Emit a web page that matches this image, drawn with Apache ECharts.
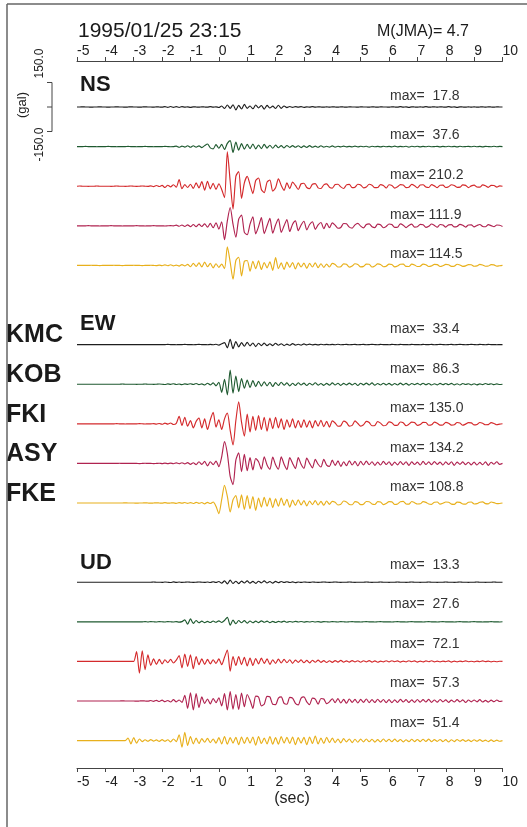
<!DOCTYPE html>
<html><head><meta charset="utf-8">
<script src="https://cdn.jsdelivr.net/npm/echarts@6/dist/echarts.min.js"></script>
<style>html,body{margin:0;padding:0;background:#fff}#c{width:527px;height:827px}</style>
</head><body><div id="c"></div>
<script>
// ---------- DATA ----------
const titleText = '1995/01/25 23:15';
const magnitudeText = 'M(JMA)= 4.7';
const stations = ['KMC', 'KOB', 'FKI', 'ASY', 'FKE'];
const components = ['NS', 'EW', 'UD'];
const nsMax = [17.8, 37.6, 210.2, 111.9, 114.5];
const ewMax = [33.4, 86.3, 135.0, 134.2, 108.8];
const udMax = [13.3, 27.6, 72.1, 57.3, 51.4];
const scaleGal = 150.0;
const timeStart = -5, timeEnd = 10, timeStep = 0.1;
const axisUnit = '(sec)';

// acceleration (gal), one sample each 0.1 s from -5.0 s to 10.0 s
const ns_KMC = [0,0,1,0,0,-1,0,0,1,0, 0,-1,0,0,1,0,0,-1,0,1, 0,0,-1,0,1,0,0,-1,1,0, -1,2,-2,3,-2,2,-3,2,-1,1, -2,1,0,-1,1,0,-1,2,-1,1,
 -3,6,-9,12,-8,14,-18,10,-12,16, -8,6,-11,12,-6,9,-13,10,-6,5, -9,11,-8,6,-4,3,-2,2,-1,2, -2,1,-1,2,-1,1,0,-1,1,-1, 1,0,-1,1,0,-1,1,0,0,-1,
 1,0,0,-1,1,0,-1,1,0,0, -1,1,0,-1,2,-1,1,-2,1,0, -1,1,-1,2,-1,0,1,-1,1,0, -1,2,-1,1,-2,1,0,-1,1,-1, 1,-1,0,1,-1,1,0,-1,1,0, 0];
const ns_KOB = [0,0,0,1,0,0,0,-1,0,0, 0,1,0,0,-1,0,0,0,1,0, 0,-1,0,0,1,0,0,-1,0,0, 0,1,0,-1,0,3,-4,3,-3,5, -4,5,-3,4,-6,6,16,-8,-14,12,
 -10,14,-18,20,37,-36,28,-22,18,-16, 14,-12,16,-14,10,-12,14,-9,8,-10, 9,-7,6,-8,7,-5,6,-4,5,-6, 4,-5,6,-4,3,-4,5,-3,2,-3, 4,-3,2,-2,3,-2,1,-2,3,-2,
 2,-1,2,-3,2,-1,1,-2,2,-1, 1,-2,3,-2,1,-1,2,-3,2,-1, 2,-2,1,-1,2,-1,0,1,-2,1, -1,2,-1,1,-2,2,-1,0,1,-1, 2,-1,1,-2,1,0,-1,2,-1,1, 0];
const ns_FKI = [0,1,0,0,-1,0,0,1,0,0, 0,0,-1,0,1,0,0,-1,0,1, 0,-1,0,1,0,-1,2,-3,4,-2, 5,-8,6,-4,9,-6,40,-15,10,-8, 12,-14,20,-10,28,-24,30,-16,18,-20,
 15,-20,-70,210,30,-140,60,90,-75,20, 60,10,-45,35,50,-20,-40,25,38,-30, -10,45,5,-25,20,-15,25,5,-20,15, 18,-8,-15,12,16,-10,-14,8,14,-6, -12,10,12,-4,-14,8,11,-9,-6,12,
 8,-10,-5,12,6,-9,-8,10,4,-11, 9,5,-12,-4,10,8,-9,-7,11,3, -10,7,9,-5,-8,10,2,-9,6,7, -8,-3,9,4,-7,-6,8,5,-9,2, 7,-5,-6,8,3,-7,5,4,-6,2, 0];
const ns_ASY = [0,0,0,0,1,0,0,0,-1,0, 0,0,1,0,0,0,-1,0,0,0, 0,1,0,0,-1,0,0,1,0,0, 0,-1,0,1,0,4,-3,5,-4,6, -5,8,-6,10,-4,12,-8,15,-12,18,
 -20,25,-85,30,112,10,-70,40,65,-40, -55,10,55,-50,-5,50,-48,0,45,-45, 5,42,-40,0,38,-35,10,30,-30,5, 28,-25,8,25,-22,5,20,-18,15,-12, 18,4,-15,-10,14,12,-8,-14,6,15,
 -2,-13,8,12,-6,-11,10,6,-12,-4, 11,8,-10,-9,12,4,-11,2,10,-8, -6,9,7,-10,-3,11,2,-9,8,5, -8,6,7,-7,-4,9,3,-8,5,6, -7,2,8,-4,-6,7,1,-6,5,3, -4];
const ns_FKE = [0,0,0,0,0,1,0,0,-1,0, 0,0,0,1,0,0,-1,0,0,0, 1,0,0,-1,0,0,1,0,-1,2, -2,3,-2,4,-3,2,-4,5,-3,6, -8,12,-6,15,-10,20,-8,12,-15,10,
 -12,8,-20,114,20,-85,30,50,-65,25, 30,-35,25,-20,28,-25,18,-15,22,-30, 48,-20,15,-25,20,-12,18,-22,15,-10, 14,-18,12,-10,16,-14,10,-12,8,-10, 12,5,-10,-8,9,7,-11,-4,10,6,
 -9,-6,8,7,-10,-3,9,6,-8,-5, 8,6,-9,-4,7,8,-6,-7,8,3, -7,-5,8,4,-7,-3,6,5,-7,-2, 6,4,-6,-5,7,2,-6,-3,5,4, -5,-3,6,2,-5,-4,5,3,-4,-2, 0];

const ew_KMC = [0,0,0,0,0,0,0,0,0,0, 0,0,0,0,0,0,0,0,0,0, 0,0,0,0,0,0,0,0,0,0, 0,0,1,0,0,-1,0,0,1,0, 0,-1,0,1,0,0,-1,1,-1,2,
 -3,5,12,-20,33,-25,18,-14,12,-10, 14,-8,10,-12,8,-6,9,-7,5,-6, 8,-4,5,-6,3,-4,6,-3,2,-3, 4,-2,3,-2,1,-2,2,-1,1,-1, 1,-1,2,-1,0,1,-1,0,1,-1,
 0,1,-1,0,1,0,-1,1,0,0, -1,1,0,-1,1,0,0,-1,1,0, 0,-1,1,0,0,1,-1,0,1,0, -1,0,1,-1,0,1,0,-1,0,1, 0,-1,1,0,-1,1,0,0,-1,0, 0];
const ew_KOB = [0,0,0,0,0,0,0,0,0,0, 0,0,0,0,0,0,1,0,0,0, 0,-1,0,0,1,0,0,-1,0,1, 0,-2,2,-1,3,-2,1,-3,2,-1, 3,-2,4,-3,2,-5,6,-4,8,-10,
 12,-50,30,-65,86,-55,50,-45,35,-25, 25,-20,22,-15,18,-12,15,-10,12,-14, 10,-8,12,-6,8,-10,6,-8,9,-5, 7,-8,6,-5,9,-6,4,-7,5,-6, 8,-5,6,-7,5,-4,7,-5,6,-8,
 6,-4,7,-5,8,-6,4,-5,6,-4, 5,-6,4,-5,7,-4,5,-6,4,-3, 5,-4,6,-3,4,-5,3,-4,5,-3, 4,-3,5,-4,3,-5,4,-2,3,-4, 3,-4,2,-3,4,-2,3,-3,2,-2, 0];
const ew_FKI = [0,0,0,0,0,0,0,0,0,0, 0,0,0,0,1,0,0,-1,0,0, 0,0,1,0,-1,0,0,1,-2,2, -3,4,-2,5,-4,3,45,-10,40,-15, 20,-25,15,35,-25,30,-35,25,70,-20,
 25,-35,30,65,-40,-130,20,135,10,-75, 60,-50,45,-40,50,-35,40,-45,35,-30, 40,-25,30,-35,25,-20,30,-25,20,-22, 25,-20,18,-25,20,-15,22,-18,15,-20, 18,5,-15,-12,16,8,-14,-10,18,2,
 -14,-6,15,8,-12,-10,14,4,-12,-8, 12,6,-10,-9,11,7,-12,-3,10,8, -10,-5,9,8,-9,-6,10,3,-8,-7, 9,4,-8,-6,8,5,-9,-2,7,6, -7,-4,8,3,-6,-5,7,2,-6,-2, 0];
const ew_ASY = [0,0,0,0,0,0,0,0,0,0, 0,0,0,0,0,1,0,0,0,0, 0,0,-1,0,1,0,0,-1,0,1, -1,2,-1,2,-2,3,-2,4,-3,5, -6,4,-8,10,-6,12,-15,10,-8,14,
 -20,40,134,60,-80,-130,20,65,-50,55, -45,35,-40,30,10,-35,40,-10,-35,38, -8,-35,40,-5,-38,35,0,-32,35,-5, -30,32,0,-28,25,-5,-22,25,-10,-18, 20,-12,15,-18,10,-14,16,-10,12,-15,
 12,-10,14,-8,10,-12,8,-10,12,-7, 10,-12,8,-9,11,-8,10,-12,9,-7, 8,-10,12,-7,9,-8,11,-6,8,-10, 9,-7,10,-12,8,-6,9,-8,7,-9, 8,-10,6,-8,9,-12,7,-5,10,-6, 0];
const ew_FKE = [0,0,0,0,0,0,0,0,0,0, 0,0,0,0,0,0,0,1,0,0, 0,-1,0,0,1,0,-1,0,1,0, -1,2,-1,0,1,-2,2,-1,3,-2, 2,-3,4,-2,3,-5,4,-3,6,-20,
 -65,20,108,40,-55,20,45,-30,50,-40, 45,-35,40,-45,30,-25,35,-20,30,-28, 25,-20,30,-15,22,-25,18,-15,20,-12, 15,-18,12,-10,15,-12,10,-14,12,-8, 10,4,-12,-8,12,6,-9,-11,8,5,
 -10,-7,9,8,-6,-9,8,6,-10,-3, 8,7,-9,-6,8,10,-6,-7,9,2, -6,-5,8,4,-6,-8,5,6,-7,-2, 6,5,-7,-8,5,4,-6,-7,5,6, -6,-4,5,7,-4,-5,6,2,-4,-3, 0];

const ud_KMC = [0,0,0,0,0,0,0,0,0,0, 0,0,0,0,0,0,0,0,0,0, 0,0,0,0,0,0,0,1,0,0, -1,1,0,-2,2,-1,1,-1,0,1, 0,-1,0,1,0,-1,1,-2,3,-2,
 4,-6,8,-10,13,-8,6,-9,7,-5, 8,-6,5,-7,6,-4,8,-5,4,-6, 5,-3,4,-2,3,-2,2,-3,1,-1, 1,0,-1,1,0,-1,0,1,0,-1, 0,1,0,-1,0,0,1,0,-1,0,
 0,0,1,0,-1,0,0,1,0,0, -1,0,0,1,0,0,-1,0,1,0, 0,-1,0,0,1,0,0,-1,0,0, 1,0,0,-1,0,1,0,0,-1,0, 0,1,0,0,-1,0,0,1,0,0, 0];
const ud_KOB = [0,0,0,0,0,0,0,0,0,0, 0,0,0,0,0,0,0,0,0,0, 0,0,0,0,1,-1,1,0,-1,1, 0,-1,1,0,-1,1,-2,1,12,-15, 18,-10,8,-6,4,-5,3,-4,5,-3,
 6,-4,8,28,-20,10,-12,8,-6,7, -8,5,-6,4,-5,6,-3,4,-5,3, -4,3,-2,4,-3,2,-2,3,-1,2, -2,1,-1,2,-1,1,-2,1,0,-1, 1,0,-1,1,0,-1,0,1,0,0,
 -1,0,1,0,0,-1,0,1,0,0, 0,-1,0,1,0,0,-1,0,1,0, 0,0,-1,0,1,0,0,-1,0,1, 0,0,0,-1,0,1,0,0,-1,0, 1,0,0,-1,0,0,1,0,0,-1, 0];
const ud_FKI = [0,0,0,0,0,0,0,0,0,0, 0,0,0,0,0,0,0,0,0,0, 0,60,-72,65,-50,40,-25,15,-18,12, -15,10,-8,12,-10,8,35,-40,45,-30, 40,-45,30,-20,15,-18,12,-15,10,-12,
 15,-20,25,70,-60,30,-25,30,-20,25, -28,20,-25,18,-15,20,-12,15,-18,10, -12,14,-10,12,-8,10,-12,8,-6,9, -8,6,-9,7,-5,8,-6,5,-7,4, -6,5,-4,6,-5,3,-4,5,-3,4,
 -5,4,-3,5,-4,3,-5,2,-3,4, -3,4,-2,3,-4,2,-3,4,-2,3, -4,2,-3,3,-2,4,-3,2,-3,2, -2,3,-4,2,-3,2,-2,3,-2,1, -3,2,-2,3,-1,2,-3,1,-2,1, 0];
const ud_ASY = [0,0,0,0,0,0,0,0,0,0, 0,0,0,0,0,0,1,0,0,0, 0,-1,0,1,0,-1,3,-2,4,-3, 5,-4,3,-6,8,-5,6,-8,35,-45, 50,-55,45,-40,25,-15,12,-18,15,-10,
 20,-30,45,-55,57,-50,40,-52,48,-35, 40,5,-45,30,25,-30,-20,28,25,-20, -22,18,25,-15,-20,22,18,-15,-24,18, 25,-5,-22,18,12,-20,15,12,-16,-5, 14,-10,15,-12,10,-14,12,-8,10,-12,
 10,-8,12,-10,8,-9,11,-7,9,-10, 8,-10,7,-9,10,-6,8,-9,7,-8, 9,-7,8,-6,10,-8,6,-7,9,-5, 7,-8,5,-6,8,-5,7,-9,6,-5, 6,-5,8,-6,4,-7,5,-4,6,-3, 0];
const ud_FKE = [0,0,0,0,0,0,0,0,0,0, 0,0,0,0,0,0,0,0,15,-20, 18,-15,10,-6,5,-4,6,-3,4,-5, 6,-4,5,-8,10,-6,35,-40,51,-30, 25,-20,15,-18,12,-10,14,-12,10,-15,
 18,-20,25,-22,18,-15,20,-25,22,-18, 20,-15,22,-28,25,-18,15,-20,25,-22, 18,-22,25,-15,20,-18,22,-25,18,-15, 20,-25,22,-18,28,-20,15,-18,20,-12, 15,-12,10,-14,12,-8,10,-12,8,-10,
 9,-8,10,-7,8,-9,6,-8,10,-6, 8,-7,9,-6,7,-8,5,-7,8,-6, 7,-6,8,-5,9,-7,6,-5,7,-6, 6,-8,5,-6,7,-4,6,-5,4,-6, 5,-4,6,-5,3,-6,4,-5,3,-4, 0];

// ---------- LAYOUT / STYLE ----------
const traces = { NS: [ns_KMC, ns_KOB, ns_FKI, ns_ASY, ns_FKE], EW: [ew_KMC, ew_KOB, ew_FKI, ew_ASY, ew_FKE], UD: [ud_KMC, ud_KOB, ud_FKI, ud_ASY, ud_FKE] };
const maxima = { NS: nsMax, EW: ewMax, UD: udMax };
const FONT = '"Liberation Sans", Arial, Helvetica, sans-serif';
const colors = ['#1e1e1e', '#1f5a30', '#d42a2c', '#b02350', '#e8b01c'];
const PLOT_LEFT = 77, PLOT_RIGHT = 24.5;
const BASE0 = 107, STEP = 39.6;
const HALF_H = 50, HALF_RANGE = 306;      // 50 px <-> 306 gal
const maxLabelOffset = { NS: 11, EW: 15.5, UD: 17.5 };
const compLabelY = { NS: 85, EW: 324, UD: 563 };
const TOP_AXIS_Y = 61, BOTTOM_AXIS_Y = 768;

const times = [];
for (let i = 0; i <= Math.round((timeEnd - timeStart) / timeStep); i++) times.push(+(timeStart + i * timeStep).toFixed(2));

const grid = [], xAxis = [], yAxis = [], series = [], graphic = [];
components.forEach((comp, ci) => {
  stations.forEach((st, si) => {
    const k = ci * 6 + si;
    const base = BASE0 + STEP * k;
    const idx = grid.length;
    grid.push({ left: PLOT_LEFT, right: PLOT_RIGHT, top: base - HALF_H, height: HALF_H * 2 });
    xAxis.push({ gridIndex: idx, type: 'value', min: timeStart, max: timeEnd, show: false });
    yAxis.push({ gridIndex: idx, type: 'value', min: -HALF_RANGE, max: HALF_RANGE, show: false });
    const arr = traces[comp][si];
    series.push({
      type: 'line', xAxisIndex: idx, yAxisIndex: idx, clip: false, animation: false,
      symbol: 'none', silent: true, smooth: 0.25,
      lineStyle: { color: colors[si], width: 1.15 },
      data: times.map((t, i) => [t, arr[i]])
    });
    const m = maxima[comp][si];
    graphic.push({ type: 'text', x: 390, y: base - maxLabelOffset[comp],
      style: { text: 'max= ' + (m < 100 ? ' ' : '') + m.toFixed(1), font: '14px ' + FONT, fill: '#333', textAlign: 'left', textVerticalAlign: 'middle' } });
  });
  graphic.push({ type: 'text', x: 80, y: compLabelY[comp],
    style: { text: comp, font: 'bold 22px ' + FONT, fill: '#1a1a1a', textAlign: 'left', textVerticalAlign: 'middle' } });
});
// station names beside the EW block
stations.forEach((st, si) => {
  const base = BASE0 + STEP * (6 + si);
  graphic.push({ type: 'text', x: 6, y: base - 9,
    style: { text: st, font: 'bold 25px ' + FONT, fill: '#1a1a1a', textAlign: 'left', textVerticalAlign: 'middle' } });
});
// axis grid (top and bottom time axes)
const ag = grid.length;
grid.push({ left: PLOT_LEFT, right: PLOT_RIGHT, top: TOP_AXIS_Y, height: BOTTOM_AXIS_Y - TOP_AXIS_Y });
const axisCommon = {
  gridIndex: ag, type: 'value', min: timeStart, max: timeEnd, interval: 1,
  axisLine: { show: true, onZero: false, lineStyle: { color: '#444', width: 1 } },
  axisTick: { show: true, length: 4, lineStyle: { color: '#444', width: 1 } },
  splitLine: { show: false },
};
xAxis.push(Object.assign({}, axisCommon, { position: 'top',
  axisLabel: { align: 'left', margin: 3, fontSize: 14, color: '#222', fontFamily: FONT } }));
xAxis.push(Object.assign({}, axisCommon, { position: 'bottom',
  axisLabel: { align: 'left', margin: 7, fontSize: 14, color: '#222', fontFamily: FONT } }));
yAxis.push({ gridIndex: ag, type: 'value', min: 0, max: 1, show: false });

graphic.push({ type: 'text', x: 78, y: 31, style: { text: titleText, font: '21px ' + FONT, fill: '#1a1a1a', textAlign: 'left', textVerticalAlign: 'middle' } });
graphic.push({ type: 'text', x: 377, y: 32, style: { text: magnitudeText, font: '16px ' + FONT, fill: '#1a1a1a', textAlign: 'left', textVerticalAlign: 'middle' } });
graphic.push({ type: 'text', x: 292, y: 799, style: { text: axisUnit, font: '16px ' + FONT, fill: '#222', textAlign: 'center', textVerticalAlign: 'middle' } });
// frame
graphic.push({ type: 'line', shape: { x1: 7, y1: 4, x2: 7, y2: 827 }, style: { stroke: '#666', lineWidth: 1.5 } });
graphic.push({ type: 'line', shape: { x1: 7, y1: 4, x2: 527, y2: 4 }, style: { stroke: '#666', lineWidth: 1.5 } });

const chart = echarts.init(document.getElementById('c'), null, { renderer: 'canvas' });
chart.setOption({ animation: false, backgroundColor: '#fff', grid, xAxis, yAxis, series, graphic });

// amplitude scale bar, derived from the first trace's y axis
const yTop = chart.convertToPixel({ yAxisIndex: 0 }, scaleGal);
const yMid = chart.convertToPixel({ yAxisIndex: 0 }, 0);
const yBot = chart.convertToPixel({ yAxisIndex: 0 }, -scaleGal);
const BX = 52;
const sc = { stroke: '#444', lineWidth: 1 };
graphic.push({ type: 'line', shape: { x1: BX, y1: yTop, x2: BX, y2: yBot }, style: sc });
[yTop, yMid, yBot].forEach(y => graphic.push({ type: 'line', shape: { x1: BX - 5, y1: y, x2: BX, y2: y }, style: sc }));
graphic.push({ type: 'text', x: 40, y: yTop - 4, rotation: Math.PI / 2,
  style: { text: scaleGal.toFixed(1), font: '12px ' + FONT, fill: '#222', textAlign: 'left', textVerticalAlign: 'middle' } });
graphic.push({ type: 'text', x: 40, y: yBot + 30, rotation: Math.PI / 2,
  style: { text: (-scaleGal).toFixed(1), font: '12px ' + FONT, fill: '#222', textAlign: 'left', textVerticalAlign: 'middle' } });
graphic.push({ type: 'text', x: 22, y: yMid - 2, rotation: Math.PI / 2,
  style: { text: '(gal)', font: '13px ' + FONT, fill: '#222', textAlign: 'center', textVerticalAlign: 'middle' } });
chart.setOption({ graphic });
</script></body></html>
